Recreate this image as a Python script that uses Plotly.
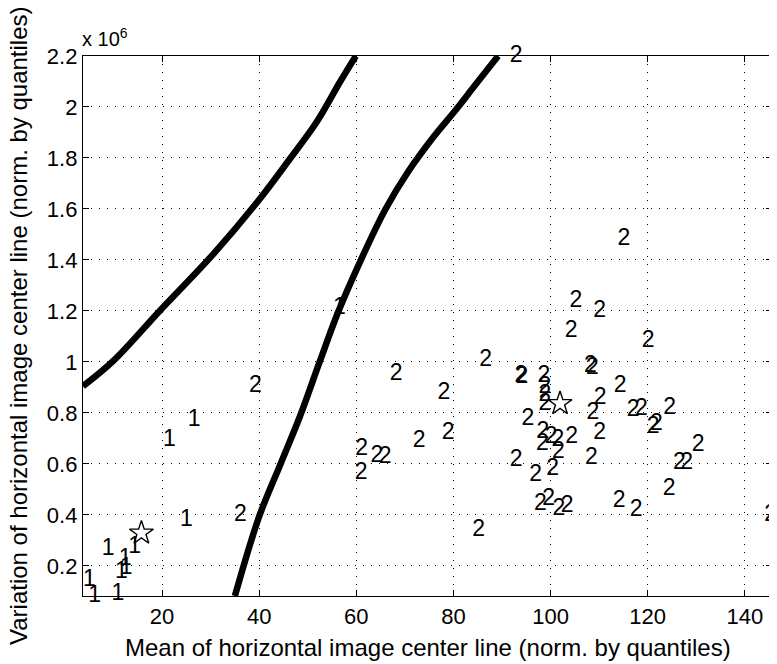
import plotly.graph_objects as go

# ---- data (y values in units of 1e6) ----
class1_x = [25.3, 20.2, 23.7, 7.6, 13.05, 11.1, 10.3, 11.3, 3.72, 4.8, 9.6, 55.2]
class1_y = [0.771, 0.691, 0.378, 0.267, 0.273, 0.228, 0.175, 0.192, 0.145, 0.082, 0.090, 1.21]

class2_x = [37.9, 34.8, 66.9, 76.7, 77.6, 71.6, 59.8, 62.9, 64.6, 59.7,
            83.9, 96.6, 98.3, 100.4, 102.1, 112.8, 116.3, 123.1, 95.6, 99.1,
            113.8, 103.9, 108.8, 102.9, 118.8, 85.3, 92.6, 92.8, 97.3, 97.5,
            97.5, 97.5, 106.9, 107.3, 113.0, 108.9, 107.4, 115.7, 117.4, 123.2,
            119.8, 120.5, 129.1, 125.2, 126.7, 94.0, 97.1, 98.8, 100.2, 103.0,
            97.0, 100.3, 108.8, 91.6, 107.1, 91.6, 144.0]
class2_y = [0.905, 0.398, 0.951, 0.879, 0.722, 0.689, 0.656, 0.632, 0.625, 0.564,
            0.339, 0.440, 0.462, 0.423, 0.433, 0.453, 0.420, 0.499, 0.554, 0.580,
            1.481, 1.237, 1.197, 1.119, 1.082, 1.007, 0.944, 0.940, 0.942, 0.902,
            0.868, 0.833, 0.983, 0.975, 0.905, 0.859, 0.800, 0.810, 0.813, 0.820,
            0.745, 0.754, 0.673, 0.604, 0.601, 0.774, 0.726, 0.706, 0.691, 0.706,
            0.676, 0.647, 0.722, 0.614, 0.623, 2.200, 0.400]

mean_x = [15.75, 101.95]
mean_y = [0.329, 0.837]

curve_a_x = [3.72, 9.9, 19.5, 30.5, 40.1, 46.3, 51.8, 56.6, 59.9]
curve_a_y = [0.905, 1.003, 1.200, 1.422, 1.639, 1.796, 1.940, 2.097, 2.200]

curve_b_x = [35.0, 40.0, 44.4, 48.4, 52.5, 56.2, 60.7, 66.0, 70.6, 75.8, 80.3, 84.4, 89.2]
curve_b_y = [0.082, 0.394, 0.600, 0.787, 1.003, 1.193, 1.390, 1.599, 1.744, 1.880, 1.984, 2.084, 2.200]

x_ticks = [20, 40, 60, 80, 100, 120, 140]
y_ticks = [0.2, 0.4, 0.6, 0.8, 1.0, 1.2, 1.4, 1.6, 1.8, 2.0, 2.2]
y_ticktext = ["0.2", "0.4", "0.6", "0.8", "1", "1.2", "1.4", "1.6", "1.8", "2", "2.2"]

FONT = "Liberation Sans, Arial, Helvetica, sans-serif"
FS_TICK = 22
FS_TITLE = 24
FS_MARK = 23

fig = go.Figure()

for cx, cy in [(curve_a_x, curve_a_y), (curve_b_x, curve_b_y)]:
    fig.add_trace(go.Scatter(x=cx, y=cy, mode="lines",
                             line=dict(color="black", width=6.5, shape="spline", smoothing=1.0),
                             showlegend=False, hoverinfo="skip", cliponaxis=True))

fig.add_trace(go.Scatter(x=class1_x, y=class1_y, mode="text", text=["1"] * len(class1_x),
                         textposition="middle right",
                         textfont=dict(family=FONT, size=FS_MARK, color="black"),
                         showlegend=False, cliponaxis=False))
fig.add_trace(go.Scatter(x=class2_x, y=class2_y, mode="text", text=["2"] * len(class2_x),
                         textposition="middle right",
                         textfont=dict(family=FONT, size=FS_MARK, color="black"),
                         showlegend=False, cliponaxis=False))
fig.add_trace(go.Scatter(x=mean_x, y=mean_y, mode="markers",
                         marker=dict(symbol="star-open", size=18, color="black",
                                     line=dict(color="black", width=1.4)),
                         showlegend=False, cliponaxis=False))

axis_common = dict(showline=True, linecolor="black", linewidth=1.3, mirror="allticks",
                   ticks="inside", ticklen=6, tickcolor="black", tickwidth=1,
                   showgrid=True, gridcolor="black", gridwidth=1, griddash="1px,7px",
                   zeroline=False, automargin=False,
                   tickfont=dict(family=FONT, size=FS_TICK, color="black"))

# page body adds an 8px offset; margins compensate so the plot area lands at
# x 83..772, y 56..596 in the window
fig.update_layout(
    width=777, height=664,
    paper_bgcolor="white", plot_bgcolor="white",
    margin=dict(l=75, r=13, t=48, b=76),
    xaxis=dict(range=[3.72, 145.6], tickvals=x_ticks, **axis_common),
    yaxis=dict(range=[0.082, 2.2], tickvals=y_ticks, ticktext=y_ticktext, **axis_common),
    annotations=[
        dict(text="Mean of horizontal image center line (norm. by quantiles)",
             xref="paper", yref="paper", x=0.5, y=0, xanchor="center", yanchor="middle",
             yshift=-51, showarrow=False, font=dict(family=FONT, size=FS_TITLE, color="black")),
        dict(text="Variation of horizontal image center line (norm. by quantiles)",
             xref="paper", yref="paper", x=0, y=0.5, xanchor="center", yanchor="middle",
             xshift=-65, textangle=-90, showarrow=False,
             font=dict(family=FONT, size=FS_TITLE, color="black")),
        dict(text="x 10<sup>6</sup>", xref="paper", yref="paper", x=0, y=1,
             xanchor="left", yanchor="middle", yshift=19, xshift=-3, showarrow=False,
             font=dict(family=FONT, size=20, color="black")),
    ],
)

fig.write_html("out.html")
